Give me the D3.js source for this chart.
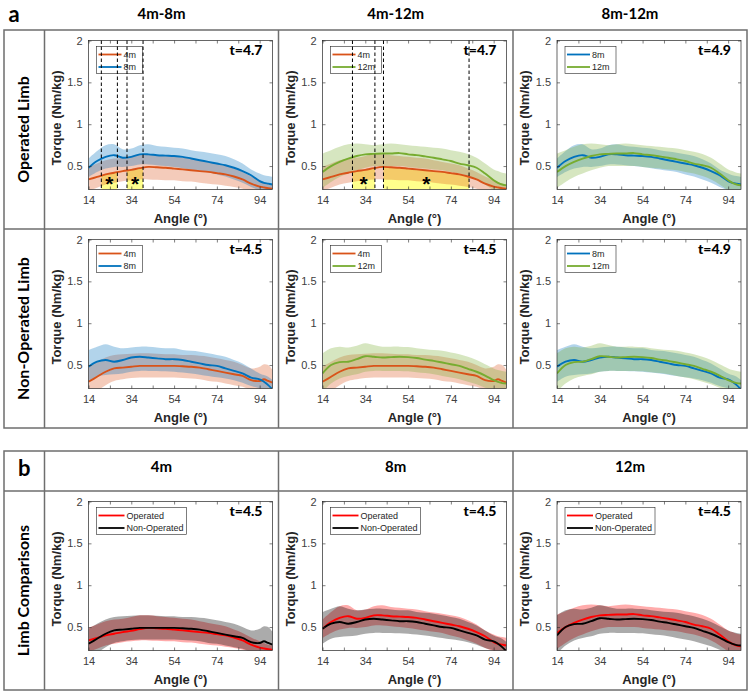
<!DOCTYPE html>
<html><head><meta charset="utf-8">
<script src="https://cdn.jsdelivr.net/npm/d3@7"></script>
<style>body{margin:0;background:#fff}</style>
</head><body>
<script>
// ---------------- DATA ----------------
const angles = [14,18,22,26,30,34,38,42,46,50,54,58,62,66,70,74,78,82,86,90,94,96,98,100];

const op4Mean  = [0.34,0.37,0.40,0.42,0.44,0.455,0.475,0.49,0.485,0.48,0.47,0.46,0.45,0.44,0.43,0.415,0.40,0.375,0.34,0.29,0.255,0.245,0.235,0.23];
const op4Upper = [0.49,0.53,0.57,0.59,0.60,0.62,0.64,0.64,0.63,0.62,0.61,0.60,0.59,0.57,0.55,0.53,0.51,0.47,0.43,0.375,0.33,0.31,0.29,0.28];
const op4Lower = [0.20,0.24,0.28,0.30,0.32,0.33,0.34,0.34,0.335,0.33,0.33,0.32,0.315,0.30,0.29,0.28,0.265,0.25,0.23,0.20,0.18,0.175,0.17,0.17];

const op8Mean  = [0.48,0.56,0.61,0.63,0.60,0.61,0.64,0.64,0.63,0.625,0.62,0.61,0.59,0.57,0.55,0.53,0.51,0.48,0.44,0.39,0.32,0.30,0.29,0.28];
const op8Upper = [0.59,0.68,0.75,0.76,0.70,0.71,0.75,0.76,0.74,0.73,0.72,0.71,0.69,0.675,0.66,0.64,0.62,0.58,0.53,0.46,0.41,0.39,0.38,0.37];
const op8Lower = [0.37,0.43,0.47,0.49,0.49,0.50,0.52,0.52,0.51,0.50,0.49,0.475,0.46,0.445,0.43,0.40,0.375,0.34,0.30,0.25,0.21,0.20,0.19,0.18];

const op12Mean  = [0.43,0.50,0.55,0.59,0.62,0.64,0.645,0.65,0.65,0.655,0.64,0.63,0.615,0.60,0.58,0.56,0.53,0.51,0.48,0.41,0.33,0.30,0.28,0.27];
const op12Upper = [0.65,0.69,0.73,0.76,0.77,0.76,0.75,0.76,0.77,0.76,0.75,0.74,0.73,0.72,0.71,0.69,0.67,0.645,0.60,0.53,0.46,0.44,0.42,0.41];
const op12Lower = [0.24,0.31,0.37,0.41,0.45,0.48,0.50,0.50,0.50,0.50,0.49,0.48,0.47,0.46,0.45,0.43,0.41,0.38,0.34,0.28,0.21,0.19,0.17,0.16];

const non4Mean  = [0.30,0.36,0.42,0.46,0.47,0.48,0.49,0.49,0.49,0.49,0.49,0.485,0.48,0.47,0.45,0.43,0.41,0.39,0.37,0.32,0.31,0.33,0.31,0.29];
const non4Upper = [0.48,0.54,0.59,0.62,0.63,0.635,0.64,0.64,0.635,0.63,0.63,0.62,0.62,0.61,0.60,0.58,0.56,0.54,0.50,0.46,0.48,0.51,0.50,0.44];
const non4Lower = [0.16,0.19,0.26,0.31,0.33,0.345,0.35,0.35,0.35,0.35,0.35,0.345,0.34,0.33,0.31,0.30,0.28,0.26,0.24,0.20,0.17,0.17,0.16,0.15];

const non8Mean  = [0.48,0.54,0.56,0.54,0.56,0.59,0.60,0.59,0.58,0.57,0.57,0.56,0.54,0.52,0.50,0.49,0.46,0.43,0.40,0.35,0.33,0.30,0.26,0.21];
const non8Upper = [0.68,0.72,0.75,0.72,0.70,0.71,0.72,0.72,0.71,0.70,0.70,0.68,0.67,0.66,0.64,0.62,0.60,0.56,0.52,0.46,0.40,0.38,0.36,0.32];
const non8Lower = [0.30,0.36,0.38,0.39,0.40,0.42,0.43,0.43,0.43,0.425,0.42,0.41,0.40,0.385,0.37,0.355,0.34,0.32,0.29,0.25,0.22,0.19,0.17,0.14];

const non12Mean  = [0.40,0.50,0.535,0.54,0.57,0.605,0.60,0.59,0.595,0.60,0.595,0.585,0.565,0.55,0.53,0.51,0.49,0.455,0.42,0.375,0.32,0.30,0.285,0.28];
const non12Upper = [0.64,0.70,0.72,0.71,0.73,0.76,0.74,0.72,0.72,0.72,0.715,0.70,0.69,0.68,0.67,0.65,0.63,0.60,0.56,0.51,0.46,0.44,0.43,0.42];
const non12Lower = [0.18,0.28,0.34,0.37,0.39,0.42,0.43,0.43,0.43,0.43,0.425,0.415,0.405,0.39,0.37,0.35,0.33,0.30,0.27,0.23,0.19,0.17,0.16,0.15];

const xTicks = [14,24,34,44,54,64,74,84,94];
const xTickLabels = [14,34,54,74,94];
const yTicks = [0.5,1,1.5,2];

const colTitlesA = ["4m-8m","4m-12m","8m-12m"];
const colTitlesB = ["4m","8m","12m"];
const rowLabels = ["Operated Limb","Non-Operated Limb","Limb Comparisons"];

const tStatsOp  = ["t=4.7","t=4.7","t=4.9"];
const tStatsNon = ["t=4.5","t=4.5","t=4.9"];
const tStatsB   = ["t=4.5","t=4.5","t=4.5"];

// significant angle ranges (dashed bounds, yellow fill, asterisk)
const sigOp4v8  = [[20,27.5],[32,39.5]];
const sigOp4v12 = [[28,38.5],[42.5,82.5]];

// ---------------- STYLE / LAYOUT ----------------
const ORANGE="#D95319", BLUE="#0072BD", GREEN="#77AC30", RED="#FF0000", BLACK="#000000";
const colX = [4, 44.5, 278.5, 513, 747];
const aTop = 30, aMid = 229, aBot = 428;
const bTop = 451, bHead = 491, bBot = 690;
const PW = 184, PH = 149;
const yDomain = [0.22, 2];
const AX = "Liberation Sans, Arial, sans-serif";
const TF = "Lato, 'Open Sans', sans-serif";

const mk = (m,u,l)=>angles.map((a,i)=>({a, m:m[i], hi:u[i], lo:l[i]}));
const S = {
  op4: mk(op4Mean,op4Upper,op4Lower), op8: mk(op8Mean,op8Upper,op8Lower), op12: mk(op12Mean,op12Upper,op12Lower),
  non4: mk(non4Mean,non4Upper,non4Lower), non8: mk(non8Mean,non8Upper,non8Lower), non12: mk(non12Mean,non12Upper,non12Lower)
};

const svg = d3.select("body").append("svg").attr("width",750).attr("height",694)
  .style("font-family",AX);

let clipId = 0;
function panel(x0, y0, cfg){
  const g = svg.append("g").attr("transform",`translate(${x0},${y0})`);
  const x = d3.scaleLinear().domain([14,100]).range([0,PW]);
  const y = d3.scaleLinear().domain(yDomain).range([PH,0]);
  const id = "clip"+(clipId++);
  g.append("clipPath").attr("id",id).append("rect").attr("width",PW).attr("height",PH);
  const pg = g.append("g").attr("clip-path",`url(#${id})`);

  if (cfg.sig){
    const interp = d3.scaleLinear().domain(angles).range(cfg.series[0].data.map(d=>d.m));
    cfg.sig.forEach(([s,e])=>{
      const pts = [s, ...angles.filter(a=>a>s && a<e), e].map(a=>({a, v:interp(a)}));
      pg.append("path").datum(pts)
        .attr("d", d3.area().x(d=>x(d.a)).y0(PH).y1(d=>y(d.v)))
        .attr("fill","#ffff00").attr("fill-opacity",0.45);
    });
  }
  const area = d3.area().x(d=>x(d.a)).y0(d=>y(d.lo)).y1(d=>y(d.hi)).curve(d3.curveCatmullRom);
  const line = d3.line().x(d=>x(d.a)).y(d=>y(d.m)).curve(d3.curveCatmullRom);
  cfg.series.forEach(s=>{
    pg.append("path").datum(s.data).attr("d",area).attr("fill",s.color).attr("fill-opacity",cfg.alpha);
  });
  cfg.series.forEach(s=>{
    pg.append("path").datum(s.data).attr("d",line).attr("fill","none").attr("stroke",s.color).attr("stroke-width",1.9);
  });
  if (cfg.sig){
    cfg.sig.forEach(([s,e])=>{
      g.append("text").attr("x",x((s+e)/2)).attr("y",y(0.35)+12).attr("text-anchor","middle")
        .attr("font-size",21).attr("font-weight","bold").attr("fill","#000").text("*");
    });
  }

  const fmt = d => xTickLabels.includes(d) ? d : "";
  const gb = g.append("g").attr("transform",`translate(0,${PH})`)
    .call(d3.axisBottom(x).tickValues(xTicks).tickFormat(fmt).tickSizeInner(-3).tickSizeOuter(0).tickPadding(7));
  const gt = g.append("g").call(d3.axisTop(x).tickValues(xTicks).tickFormat("").tickSizeInner(-3).tickSizeOuter(0));
  const gl = g.append("g").call(d3.axisLeft(y).tickValues(yTicks).tickFormat(d3.format("")).tickSizeInner(-3).tickSizeOuter(0).tickPadding(6));
  const gr = g.append("g").attr("transform",`translate(${PW},0)`).call(d3.axisRight(y).tickValues(yTicks).tickFormat("").tickSizeInner(-3).tickSizeOuter(0));
  [gb,gt,gl,gr].forEach(a=>{
    a.select(".domain").remove();
    a.selectAll("line").attr("stroke","#262626").attr("stroke-width",0.6);
    a.selectAll("text").attr("fill","#404040").attr("font-size",11).attr("font-family",AX);
  });
  g.append("rect").attr("width",PW).attr("height",PH).attr("fill","none").attr("stroke","#262626").attr("stroke-width",0.7);

  const lw = cfg.legendW, lh = 27;
  const lg = g.append("g").attr("transform",`translate(8,6)`);
  lg.append("rect").attr("width",lw).attr("height",lh).attr("fill","#fff").attr("stroke","#262626").attr("stroke-width",0.6);
  cfg.series.forEach((s,i)=>{
    const yy = 8 + i*12.5;
    lg.append("line").attr("x1",2).attr("x2",cfg.legendLine).attr("y1",yy).attr("y2",yy).attr("stroke",s.color).attr("stroke-width",1.8);
    lg.append("text").attr("x",cfg.legendLine+2).attr("y",yy+3.2).attr("font-size",9).attr("fill","#262626").text(s.label);
  });

  if (cfg.sig){
    cfg.sig.forEach(([s,e])=>{
      [s,e].forEach(v=>{
        g.append("line").attr("x1",x(v)).attr("x2",x(v)).attr("y1",0).attr("y2",PH)
          .attr("stroke","#000").attr("stroke-width",1).attr("stroke-dasharray","3.5,2.5");
      });
    });
  }

  g.append("text").attr("x",PW-10).attr("y",14).attr("text-anchor","end")
    .attr("font-family",TF).attr("font-weight",900).attr("font-size",14).attr("fill","#000").text(cfg.t);

  g.append("text").attr("transform",`translate(-28,${PH/2+3}) rotate(-90)`).attr("text-anchor","middle")
    .attr("font-size",13).attr("font-weight","bold").attr("fill","#262626").text("Torque (Nm/kg)");
  g.append("text").attr("x",PW/2).attr("y",PH+33).attr("text-anchor","middle")
    .attr("font-size",13).attr("font-weight","bold").attr("fill","#262626").text("Angle (°)");
}

// ---------------- TABLE FRAMES ----------------
const frame = svg.append("g").attr("stroke","#6e6e6e").attr("stroke-width",1.5).attr("fill","none");
frame.append("rect").attr("x",colX[0]).attr("y",aTop).attr("width",colX[4]-colX[0]).attr("height",aBot-aTop);
frame.append("line").attr("x1",colX[0]).attr("x2",colX[4]).attr("y1",aMid).attr("y2",aMid);
colX.slice(1,4).forEach(cx=>frame.append("line").attr("x1",cx).attr("x2",cx).attr("y1",aTop).attr("y2",aBot));
frame.append("rect").attr("x",colX[0]).attr("y",bTop).attr("width",colX[4]-colX[0]).attr("height",bBot-bTop);
frame.append("line").attr("x1",colX[0]).attr("x2",colX[4]).attr("y1",bHead).attr("y2",bHead);
colX.slice(1,4).forEach(cx=>frame.append("line").attr("x1",cx).attr("x2",cx).attr("y1",bTop).attr("y2",bBot));

const T = svg.append("g").attr("font-family",TF).attr("font-weight",700).attr("fill","#000");
T.append("text").attr("x",14).attr("y",22).attr("font-size",22).attr("text-anchor","middle").text("a");
colTitlesA.forEach((t,i)=>T.append("text").attr("x",(colX[i+1]+colX[i+2])/2).attr("y",19).attr("font-size",15).attr("text-anchor","middle").text(t));
T.append("text").attr("x",(colX[0]+colX[1])/2).attr("y",476).attr("font-size",22).attr("text-anchor","middle").text("b");
colTitlesB.forEach((t,i)=>T.append("text").attr("x",(colX[i+1]+colX[i+2])/2).attr("y",472).attr("font-size",15).attr("text-anchor","middle").text(t));
[[aTop,aMid],[aMid,aBot],[bHead,bBot]].forEach(([t,b],i)=>{
  T.append("text").attr("transform",`translate(${(colX[0]+colX[1])/2+5},${(t+b)/2}) rotate(-90)`)
    .attr("font-size",16).attr("text-anchor","middle").text(rowLabels[i]);
});

// ---------------- PANELS ----------------
const rows = [
  {top:aTop, panels:[
    {series:[{data:S.op4,color:ORANGE,label:"4m"},{data:S.op8,color:BLUE,label:"8m"}], t:tStatsOp[0], sig:sigOp4v8, legendW:46, legendLine:25, alpha:0.3},
    {series:[{data:S.op4,color:ORANGE,label:"4m"},{data:S.op12,color:GREEN,label:"12m"}], t:tStatsOp[1], sig:sigOp4v12, legendW:51, legendLine:25, alpha:0.3},
    {series:[{data:S.op8,color:BLUE,label:"8m"},{data:S.op12,color:GREEN,label:"12m"}], t:tStatsOp[2], legendW:51, legendLine:25, alpha:0.3}
  ]},
  {top:aMid, panels:[
    {series:[{data:S.non4,color:ORANGE,label:"4m"},{data:S.non8,color:BLUE,label:"8m"}], t:tStatsNon[0], legendW:46, legendLine:25, alpha:0.3},
    {series:[{data:S.non4,color:ORANGE,label:"4m"},{data:S.non12,color:GREEN,label:"12m"}], t:tStatsNon[1], legendW:51, legendLine:25, alpha:0.3},
    {series:[{data:S.non8,color:BLUE,label:"8m"},{data:S.non12,color:GREEN,label:"12m"}], t:tStatsNon[2], legendW:51, legendLine:25, alpha:0.3}
  ]},
  {top:bHead, panels:[
    {series:[{data:S.op4,color:RED,label:"Operated"},{data:S.non4,color:BLACK,label:"Non-Operated"}], t:tStatsB[0], legendW:90, legendLine:28, alpha:0.33},
    {series:[{data:S.op8,color:RED,label:"Operated"},{data:S.non8,color:BLACK,label:"Non-Operated"}], t:tStatsB[1], legendW:90, legendLine:28, alpha:0.33},
    {series:[{data:S.op12,color:RED,label:"Operated"},{data:S.non12,color:BLACK,label:"Non-Operated"}], t:tStatsB[2], legendW:90, legendLine:28, alpha:0.33}
  ]}
];
rows.forEach(r=>r.panels.forEach((p,c)=>panel(colX[c+1]+44, r.top+10.5, p)));
</script>
</body></html>
